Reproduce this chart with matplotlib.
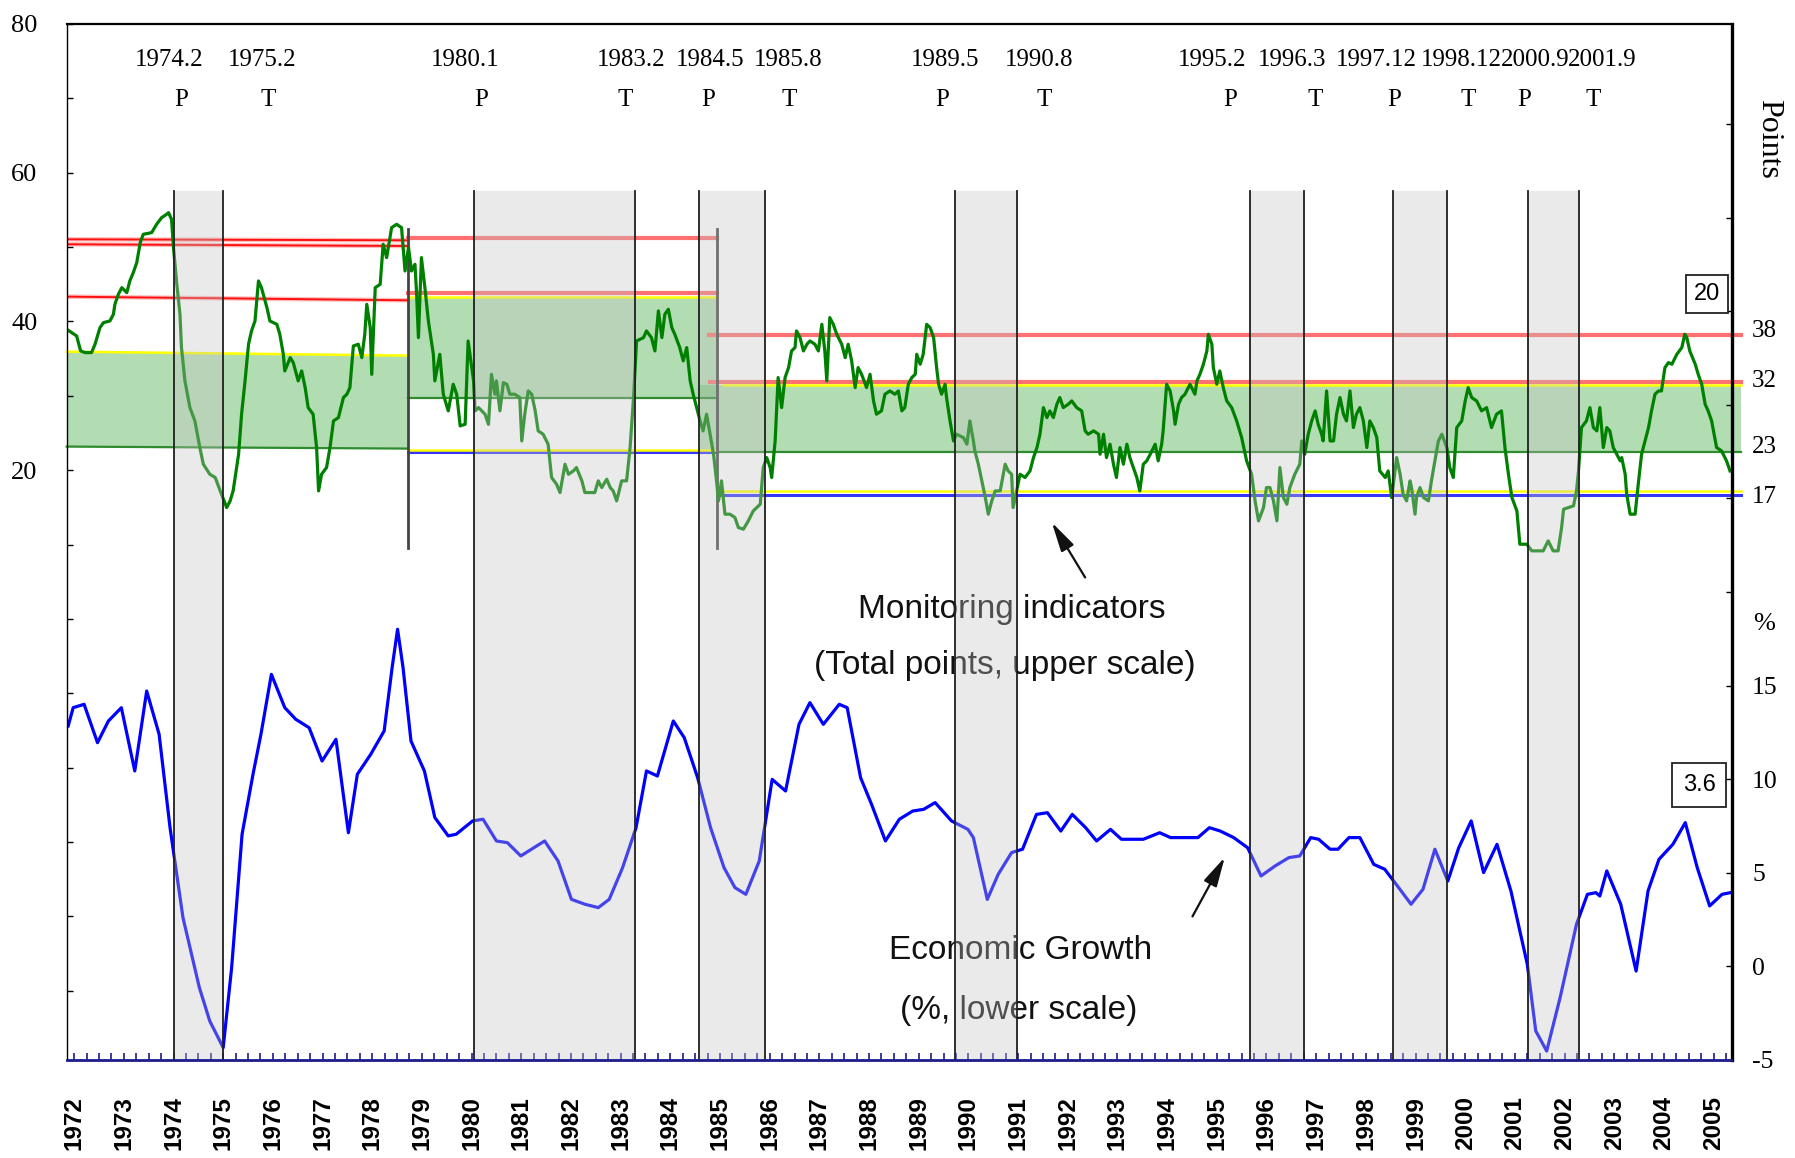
import matplotlib
matplotlib.use("Agg")
import matplotlib.pyplot as plt
from matplotlib.transforms import blended_transform_factory

# ---------------- data ----------------
# Monitoring indicators (total points, upper/left scale)
ci_year = [1971.85, 1971.95, 1972.05, 1972.13, 1972.22, 1972.35, 1972.42, 1972.52, 1972.59, 1972.72,
           1972.79, 1972.82, 1972.89, 1972.96, 1973.06, 1973.12, 1973.19, 1973.26, 1973.33, 1973.39,
           1973.56, 1973.66, 1973.76, 1973.86, 1973.90, 1973.96, 1974.00, 1974.06, 1974.13, 1974.16,
           1974.23, 1974.33, 1974.43, 1974.53, 1974.60, 1974.73, 1974.84, 1974.94, 1975.07, 1975.14,
           1975.20, 1975.31, 1975.37, 1975.44, 1975.51, 1975.57, 1975.64, 1975.71, 1975.77, 1975.88,
           1975.94, 1976.08, 1976.14, 1976.21, 1976.24, 1976.35, 1976.41, 1976.51, 1976.58, 1976.65,
           1976.71, 1976.81, 1976.88, 1976.92, 1976.98, 1977.08, 1977.15, 1977.22, 1977.32, 1977.42,
           1977.49, 1977.55, 1977.62, 1977.72, 1977.79, 1977.85, 1977.89, 1977.96, 1977.99, 1978.06,
           1978.16, 1978.22, 1978.29, 1978.39, 1978.49, 1978.59, 1978.66, 1978.73, 1978.79, 1978.86,
           1978.89, 1978.93, 1978.99, 1979.06, 1979.13, 1979.23, 1979.26, 1979.36, 1979.43, 1979.53,
           1979.63, 1979.70, 1979.77, 1979.87, 1979.93,
           1980.04, 1980.07, 1980.14, 1980.27, 1980.34, 1980.40, 1980.47, 1980.50, 1980.57, 1980.64,
           1980.71, 1980.77, 1980.87, 1980.97, 1981.01, 1981.07, 1981.14, 1981.21, 1981.28, 1981.34,
           1981.44, 1981.54, 1981.61, 1981.71, 1981.78, 1981.88, 1981.95, 1982.05, 1982.11, 1982.22,
           1982.28, 1982.48, 1982.55, 1982.62, 1982.72, 1982.79, 1982.85, 1982.92, 1983.02, 1983.12,
           1983.19, 1983.26, 1983.32, 1983.46, 1983.52, 1983.62, 1983.69, 1983.76, 1983.83, 1983.89,
           1983.96, 1984.03, 1984.09, 1984.19, 1984.26, 1984.33, 1984.40, 1984.46, 1984.53, 1984.60,
           1984.66, 1984.73, 1984.80, 1984.87, 1984.93, 1984.97, 1985.03, 1985.10, 1985.20, 1985.30,
           1985.37, 1985.47, 1985.57, 1985.67, 1985.81, 1985.87, 1985.94, 1986.01, 1986.04, 1986.11,
           1986.17, 1986.24, 1986.31, 1986.38, 1986.44, 1986.51, 1986.54, 1986.61, 1986.68, 1986.75,
           1986.81, 1986.91, 1986.98, 1987.05, 1987.11, 1987.15, 1987.21, 1987.28, 1987.35, 1987.45,
           1987.52, 1987.58, 1987.65, 1987.72, 1987.78, 1987.85, 1987.95, 1988.02, 1988.09, 1988.15,
           1988.25, 1988.32, 1988.42,
           1988.52, 1988.59, 1988.66, 1988.72, 1988.79, 1988.86, 1988.93, 1988.96, 1989.03, 1989.09,
           1989.16, 1989.23, 1989.30, 1989.36, 1989.40, 1989.46, 1989.53, 1989.56, 1989.63, 1989.70,
           1989.76, 1989.90, 1989.97, 1990.03, 1990.10, 1990.13, 1990.20, 1990.27, 1990.34, 1990.40,
           1990.47, 1990.54, 1990.64, 1990.74, 1990.80, 1990.87, 1990.90, 1990.97, 1991.04, 1991.14,
           1991.24, 1991.31, 1991.38, 1991.44, 1991.51, 1991.58, 1991.64, 1991.71, 1991.78, 1991.84,
           1991.91, 1992.01, 1992.08, 1992.18, 1992.28, 1992.35, 1992.41, 1992.52, 1992.62, 1992.65,
           1992.72, 1992.78, 1992.85, 1992.92, 1992.98, 1993.05, 1993.12, 1993.19, 1993.25, 1993.32,
           1993.39, 1993.45, 1993.52, 1993.59, 1993.66, 1993.76, 1993.82, 1993.89, 1993.92, 1993.99,
           1994.06, 1994.13, 1994.16, 1994.23, 1994.29, 1994.36, 1994.46, 1994.56, 1994.60, 1994.66,
           1994.73, 1994.80, 1994.83, 1994.90, 1994.93, 1995.00, 1995.06, 1995.13, 1995.20, 1995.30,
           1995.40, 1995.50, 1995.60, 1995.70, 1995.77, 1995.84, 1995.94, 1996.00, 1996.07, 1996.14,
           1996.21, 1996.27, 1996.34, 1996.41,
           1996.47, 1996.57, 1996.67, 1996.71, 1996.77, 1996.84, 1996.91, 1996.98, 1997.04, 1997.11,
           1997.14, 1997.21, 1997.28, 1997.35, 1997.41, 1997.48, 1997.55, 1997.61, 1997.68, 1997.75,
           1997.81, 1997.88, 1997.95, 1998.02, 1998.08, 1998.15, 1998.22, 1998.28, 1998.39, 1998.45,
           1998.52, 1998.62, 1998.69, 1998.75, 1998.82, 1998.89, 1998.92, 1998.99, 1999.02, 1999.09,
           1999.16, 1999.26, 1999.32, 1999.39, 1999.46, 1999.53, 1999.63, 1999.69, 1999.76, 1999.83,
           1999.93, 2000.00, 2000.06, 2000.13, 2000.23, 2000.33, 2000.43, 2000.53, 2000.63, 2000.73,
           2000.80, 2000.87, 2000.94, 2001.04, 2001.10, 2001.24, 2001.34, 2001.57, 2001.67, 2001.77,
           2001.87, 2001.94, 2001.98, 2002.18, 2002.24, 2002.28, 2002.34, 2002.44, 2002.51, 2002.58,
           2002.65, 2002.71, 2002.78, 2002.85, 2002.91, 2002.98, 2003.05, 2003.12, 2003.15, 2003.22,
           2003.25, 2003.32, 2003.42, 2003.49, 2003.55, 2003.62, 2003.69, 2003.75, 2003.82, 2003.89,
           2003.95, 2004.02, 2004.09, 2004.16, 2004.26, 2004.36, 2004.42, 2004.46, 2004.52, 2004.63,
           2004.69, 2004.76, 2004.83, 2004.89, 2004.96, 2005.06, 2005.16, 2005.26, 2005.33]
ci_points = [38.95, 38.50, 38.06, 36.04, 35.82, 35.82, 36.94, 39.18, 39.85, 40.07,
             40.97, 42.31, 43.66, 44.55, 43.88, 45.45, 46.57, 47.91, 50.60, 51.72,
             51.95, 53.07, 53.96, 54.41, 54.63, 53.74, 49.93, 45.45, 40.97, 36.49,
             32.01, 28.42, 26.63, 23.05, 20.81, 19.46, 19.02, 17.22, 14.98, 15.88,
             17.22, 22.15, 27.53, 32.01, 36.94, 38.73, 40.07, 45.45, 44.55, 41.87,
             40.07, 39.62, 38.28, 35.59, 33.35, 35.14, 34.47, 32.01, 33.35, 31.11,
             28.42, 27.53, 23.05, 17.22, 19.46, 20.36, 23.05, 26.63, 27.08, 29.77,
             30.22, 31.11, 36.71, 36.94, 35.14, 38.28, 42.31, 39.18, 32.90, 44.55,
             45.00, 50.38, 48.59, 52.62, 53.07, 52.62, 46.79, 49.93, 46.79, 47.69,
             44.11, 37.83, 48.59, 44.55, 40.07, 35.59, 32.01, 35.59, 30.22, 27.98,
             31.56, 30.22, 25.96, 26.18, 37.38,
             32.01, 27.98, 28.42, 27.53, 26.18, 32.90, 30.22, 32.01, 27.98, 31.78,
             31.56, 30.22, 30.22, 29.77, 23.94, 27.53, 30.66, 30.22, 27.98, 25.29,
             24.84, 23.50, 19.02, 18.12, 17.00, 20.81, 19.46, 19.91, 20.36, 18.57,
             17.00, 17.00, 18.57, 17.67, 18.79, 17.67, 17.22, 15.88, 18.57, 18.57,
             23.05, 29.77, 37.38, 37.83, 38.73, 37.83, 36.04, 41.42, 37.83, 40.97,
             41.64, 39.18, 38.28, 36.49, 34.70, 36.49, 32.01, 30.22, 28.42, 26.63,
             25.29, 27.53, 24.84, 22.15, 18.57, 15.88, 18.57, 14.09, 14.09, 13.64,
             12.29, 12.07, 13.19, 14.53, 15.43, 20.36, 21.70, 20.36, 19.02, 23.94,
             32.46, 28.42, 32.46, 33.80, 36.04, 36.49, 38.73, 37.83, 36.04, 36.94,
             37.38, 36.94, 36.04, 39.62, 36.04, 32.01, 40.52, 39.62, 38.28, 36.94,
             35.14, 36.94, 34.70, 31.11, 33.80, 32.90, 31.11, 32.90, 29.32, 27.53,
             27.98, 30.22, 30.66,
             30.22, 30.66, 27.98, 28.42, 31.56, 32.46, 32.90, 35.59, 34.25, 35.59,
             39.62, 39.18, 37.83, 33.80, 31.56, 30.22, 31.56, 29.77, 26.63, 23.94,
             24.84, 24.39, 23.50, 26.63, 23.94, 22.60, 20.81, 18.57, 16.33, 14.09,
             15.88, 17.22, 17.22, 20.81, 19.91, 19.46, 14.98, 17.22, 19.46, 19.02,
             19.91, 21.70, 23.05, 24.84, 28.42, 27.08, 27.98, 27.08, 28.87, 29.77,
             28.42, 28.87, 29.32, 28.42, 27.98, 25.29, 24.84, 25.29, 24.84, 22.15,
             24.84, 21.70, 23.50, 20.81, 19.02, 23.05, 20.81, 23.50, 21.70, 20.36,
             19.02, 17.22, 20.81, 21.26, 22.15, 23.50, 21.26, 23.50, 25.29, 31.56,
             30.66, 27.98, 26.18, 28.87, 29.77, 30.22, 31.56, 30.22, 32.01, 32.90,
             34.25, 36.04, 38.28, 36.94, 33.80, 31.56, 33.35, 31.11, 29.32, 28.42,
             26.63, 24.39, 21.26, 19.46, 15.88, 13.19, 14.98, 17.67, 17.67, 15.88,
             13.19, 20.36, 16.33, 15.43,
             17.67, 19.46, 20.81, 23.94, 22.15, 24.84, 26.63, 27.98, 26.18, 24.84,
             23.94, 30.66, 23.94, 23.94, 27.53, 29.77, 27.53, 26.63, 30.66, 25.74,
             27.53, 28.42, 26.63, 23.05, 26.63, 25.74, 24.39, 19.91, 19.02, 19.91,
             16.33, 21.70, 19.46, 16.78, 15.88, 18.57, 17.67, 14.09, 16.33, 17.67,
             16.33, 15.88, 18.57, 21.26, 23.94, 24.84, 23.05, 20.36, 19.02, 25.74,
             26.63, 29.32, 31.11, 29.77, 29.32, 27.98, 28.42, 25.74, 27.53, 27.98,
             23.05, 19.46, 16.33, 14.53, 10.05, 10.05, 9.16, 9.16, 10.50, 9.16,
             9.16, 12.29, 14.76, 15.21, 17.22, 19.91, 25.74, 26.63, 28.42, 25.74,
             25.29, 28.42, 23.05, 25.74, 25.29, 23.05, 22.15, 21.26, 21.70, 19.46,
             16.78, 14.09, 14.09, 18.57, 22.15, 23.94, 25.74, 27.98, 30.22, 30.66,
             30.66, 33.80, 34.47, 34.25, 35.59, 36.49, 38.28, 37.83, 36.04, 34.25,
             32.90, 31.56, 28.87, 27.98, 26.63, 23.05, 22.60, 21.26, 19.91]

# Economic growth (%, lower/right scale)
gdp_year = [1971.88, 1971.98, 1972.20, 1972.47, 1972.69, 1972.95, 1973.22, 1973.46, 1973.71, 1973.93,
            1974.19, 1974.52, 1974.73, 1975.00, 1975.17, 1975.38, 1975.60, 1975.76, 1975.97, 1976.24,
            1976.46, 1976.73, 1976.99, 1977.27, 1977.52, 1977.70, 1977.97, 1978.24, 1978.40, 1978.51,
            1978.62, 1978.78, 1979.05, 1979.26, 1979.53, 1979.69, 1980.02, 1980.23, 1980.50, 1980.72,
            1980.99, 1981.47, 1981.74, 1982.01, 1982.28, 1982.55, 1982.77, 1983.04, 1983.31, 1983.52,
            1983.74, 1984.06, 1984.28, 1984.55, 1984.81, 1985.08, 1985.30, 1985.52, 1985.79, 1986.05,
            1986.32, 1986.59, 1986.81, 1987.08, 1987.40, 1987.56, 1987.83, 1988.05, 1988.33, 1988.61,
            1988.88, 1989.10, 1989.33, 1989.66, 1989.99, 1990.10, 1990.38, 1990.60, 1990.87, 1991.09,
            1991.37, 1991.59, 1991.86, 1992.09, 1992.36, 1992.58, 1992.86, 1993.08, 1993.52, 1993.85,
            1994.07, 1994.62, 1994.85, 1995.07, 1995.34, 1995.62, 1995.89, 1996.17, 1996.45, 1996.67,
            1996.89, 1997.05, 1997.28, 1997.44, 1997.66, 1997.88, 1998.16, 1998.38, 1998.66, 1998.91,
            1999.15, 1999.39, 1999.65, 1999.87, 2000.12, 2000.37, 2000.64, 2000.92, 2001.25, 2001.42,
            2001.64, 2001.91, 2002.24, 2002.46, 2002.63, 2002.71, 2002.85, 2003.13, 2003.44, 2003.68,
            2003.90, 2004.18, 2004.43, 2004.67, 2004.92, 2005.17, 2005.34]
gdp_growth = [12.84, 13.82, 14.00, 11.95, 13.11, 13.82, 10.44, 14.71, 12.40, 7.41,
              2.61, -1.13, -2.92, -4.34, -0.07, 7.06, 10.26, 12.40, 15.60, 13.82,
              13.20, 12.75, 10.97, 12.13, 7.14, 10.26, 11.33, 12.58, 15.96, 18.01,
              15.96, 12.04, 10.44, 7.95, 6.97, 7.06, 7.77, 7.86, 6.70, 6.61,
              5.90, 6.70, 5.63, 3.58, 3.32, 3.14, 3.58, 5.28, 7.41, 10.44,
              10.17, 13.11, 12.22, 10.08, 7.41, 5.28, 4.21, 3.85, 5.63, 9.99,
              9.37, 12.93, 14.09, 12.93, 14.00, 13.82, 10.08, 8.66, 6.70, 7.86,
              8.30, 8.39, 8.75, 7.77, 7.32, 6.88, 3.58, 4.92, 6.08, 6.26,
              8.12, 8.21, 7.23, 8.12, 7.41, 6.70, 7.32, 6.79, 6.79, 7.14,
              6.88, 6.88, 7.41, 7.23, 6.88, 6.34, 4.83, 5.36, 5.81, 5.90,
              6.88, 6.79, 6.26, 6.26, 6.88, 6.88, 5.45, 5.19, 4.21, 3.32,
              4.12, 6.26, 4.56, 6.34, 7.77, 5.01, 6.52, 4.03, 0.11, -3.45,
              -4.52, -1.67, 2.25, 3.85, 3.94, 3.76, 5.10, 3.32, -0.25, 4.03,
              5.72, 6.52, 7.68, 5.28, 3.23, 3.85, 3.94]

# Business cycle reference dates (peak -> trough shading)
band_start = [1974.01, 1980.05, 1984.57, 1989.73, 1995.66, 1998.55, 2001.26]
band_end = [1975.00, 1983.28, 1985.90, 1990.97, 1996.75, 1999.63, 2002.30]
turn_dates = ["1974.2", "1975.2", "1980.1", "1983.2", "1984.5", "1985.8", "1989.5",
              "1990.8", "1995.2", "1996.3", "1997.12", "1998.12", "2000.9", "2001.9"]
turn_kinds = ["P", "T", "P", "T", "P", "T", "P", "T", "P", "T", "P", "T", "P", "T"]

# Signal thresholds by period: (start, end, value at start, value at end)
red_thin = [(1971.85, 1978.72, 51.05, 50.92), (1971.85, 1978.72, 50.38, 50.15),
            (1971.85, 1978.72, 43.34, 42.85)]
red_thick = [(1978.72, 1984.93, 51.18, 51.18), (1978.72, 1984.93, 43.88, 43.88),
             (1984.77, 2005.55, 38.19, 38.19), (1984.80, 2005.55, 31.92, 31.92)]
yellow_lines = [(1971.85, 1978.72, 35.95, 35.41), (1978.72, 1984.93, 43.34, 43.34),
                (1978.72, 1984.93, 22.78, 22.78), (1985.07, 2005.55, 31.47, 31.47),
                (1984.97, 2005.55, 17.22, 17.22)]
blue_lines = [(1978.72, 1984.93, 22.46, 22.46), (1984.97, 2005.55, 16.69, 16.69)]
green_zone = [(1971.85, 1978.72, 35.95, 35.41, 23.18, 22.91),
              (1978.72, 1984.93, 43.34, 43.34, 29.77, 29.77),
              (1984.60, 2005.55, 31.47, 31.47, 22.51, 22.51)]
period_breaks = [1978.72, 1984.93]

years = list(range(1972, 2006))
left_ticks = [80, 70, 60, 50, 40, 30, 20, 10, 0, -10, -20, -30, -40, -50]
left_labels = ["80", "", "60", "", "40", "", "20", "", "", "", "", "", "", ""]
right_ticks = [-5, 0, 5, 10, 15, 20, 25, 30, 35, 40, 45]
right_labels = ["-5", "0", "5", "10", "15", "", "", "", "", "", ""]
threshold_text = ["38", "32", "23", "17"]
threshold_text_pos = [38.7, 32.0, 23.1, 16.4]

# ---------------- figure ----------------
SERIF = ["Liberation Serif", "DejaVu Serif"]
SANS = ["Liberation Sans", "DejaVu Sans"]

fig = plt.figure(figsize=(17.95, 11.58), dpi=100)
fig.patch.set_facecolor("white")
ax = fig.add_axes([66.7 / 1795, 1 - 1060 / 1158, (1731.5 - 66.7) / 1795, (1060 - 24) / 1158])
ax.set_xlim(1971.85, 2005.36)
ax.set_ylim(-59.3, 80)
ax2 = ax.twinx()
ax2.set_ylim(-5, 50.34)

# green zone fills
for x0, x1, t0, t1, b0, b1 in green_zone:
    ax.fill_between([x0, x1], [b0, b1], [t0, t1], color="#66bb66", alpha=0.5,
                    linewidth=0, zorder=1, clip_on=False)
    ax.plot([x0, x1], [b0, b1], color="#2e8b2e", lw=1.6, zorder=2, clip_on=False)

for x0, x1, y0, y1 in red_thin:
    ax.plot([x0, x1], [y0, y1], color="#ff9090", lw=3.2, zorder=2, alpha=0.6)
    ax.plot([x0, x1], [y0, y1], color="#ff1010", lw=1.4, zorder=2)
for x0, x1, y0, y1 in red_thick:
    ax.plot([x0, x1], [y0, y1], color="#ff7070", lw=3.0, zorder=2, clip_on=False)
for x0, x1, y0, y1 in blue_lines:
    ax.plot([x0, x1], [y0, y1], color="#3535ff", lw=2.2, zorder=2, clip_on=False)
for x0, x1, y0, y1 in yellow_lines:
    ax.plot([x0, x1], [y0, y1], color="#ffff00", lw=1.8, zorder=2.1, clip_on=False)

for xb in period_breaks:
    ax.plot([xb, xb], [52.4, 9.6], color="#444444", lw=2.0, zorder=3)

# monitoring indicator line
ax.plot(ci_year, ci_points, color="#008000", lw=2.3, zorder=4)

# economic growth line
ax2.plot(gdp_year, gdp_growth, color="#0000ff", lw=2.3, zorder=2)

# recession shading overlays + edge lines
ylo, yhi = ax.get_ylim()
band_top = (57.6 - ylo) / (yhi - ylo)
trans2 = ax2.get_xaxis_transform()
for s, e in zip(band_start, band_end):
    ax2.axvspan(s, e, ymin=0, ymax=band_top, facecolor="#c4c4c4", alpha=0.35,
                edgecolor="none", zorder=5)
    for xe in (s, e):
        ax2.plot([xe, xe], [0, band_top], transform=trans2, color="#202020", lw=1.3, zorder=6)

# turning point labels
label_x = [1973.92, 1975.79, 1979.87, 1983.21, 1984.80, 1986.38, 1989.53,
           1991.43, 1994.90, 1996.51, 1998.21, 1999.93, 2001.40, 2002.76]
kind_x = [1974.15, 1975.90, 1980.19, 1983.09, 1984.76, 1986.40, 1989.48,
          1991.52, 1995.27, 1996.98, 1998.56, 2000.05, 2001.19, 2002.57]
for lx, kx, d, k in zip(label_x, kind_x, turn_dates, turn_kinds):
    ax.text(lx, 75.2, d, ha="center", va="center", fontsize=18, family=SERIF)
    ax.text(kx, 69.8, k, ha="center", va="center", fontsize=18, family=SERIF)

# annotations
ax.text(1990.87, 0.1, "Monitoring indicators", ha="center", va="baseline",
        fontsize=24, family=SANS, color="#111111", zorder=4.5)
ax.text(1990.73, -7.37, "(Total points, upper scale)", ha="center", va="baseline",
        fontsize=24, family=SANS, color="#111111", zorder=4.5)
ax.text(1991.04, -45.7, "Economic Growth", ha="center", va="baseline",
        fontsize=24, family=SANS, color="#111111", zorder=4.5)
ax.text(1991.02, -53.77, "(%, lower scale)", ha="center", va="baseline",
        fontsize=24, family=SANS, color="#111111", zorder=4.5)
arrow_kw = dict(arrowstyle="-|>,head_length=0.9,head_width=0.22", color="#111111",
                lw=1.6, mutation_scale=20, shrinkA=0, shrinkB=0)
ax.annotate("", xy=(1991.68, 12.97), xytext=(1992.35, 5.58), arrowprops=arrow_kw, zorder=4.5)
ax.annotate("", xy=(1995.16, -32.05), xytext=(1994.51, -40.0), arrowprops=arrow_kw, zorder=4.5)

box_kw = dict(boxstyle="square,pad=0.32", fc="white", ec="#222222", lw=1.3)
ax2.text(2004.87, -5 + (1060 - 294) / 18.72, "20", ha="center", va="center", fontsize=17,
         family=SANS, bbox=box_kw, zorder=8)
box_kw2 = dict(boxstyle="square,pad=0.45", fc="white", ec="#222222", lw=1.3)
ax2.text(2004.71, -5 + (1060 - 785) / 18.72, "3.6", ha="center", va="center", fontsize=17,
         family=SANS, bbox=box_kw2, zorder=8)

# right-side threshold numbers
tr = blended_transform_factory(ax.transAxes, ax.transData)
for txt, yv in zip(threshold_text, threshold_text_pos):
    ax.annotate(txt, xy=(1.0, yv), xycoords=tr, xytext=(14.8, 0), textcoords="offset points",
                ha="left", va="center", fontsize=18, family=SERIF, annotation_clip=False)
ax.annotate("Points", xy=(1.0, 64.6), xycoords=tr, xytext=(27, 0), textcoords="offset points",
            ha="center", va="center", rotation=-90, fontsize=23, family=SERIF,
            annotation_clip=False)
tr2 = blended_transform_factory(ax2.transAxes, ax2.transData)
ax2.annotate("%", xy=(1.0, 18.3), xycoords=tr2, xytext=(23.4, 0), textcoords="offset points",
             ha="center", va="center", fontsize=19, family=SERIF, annotation_clip=False)

# axes styling
ax.set_xticks(years)
ax.set_xticklabels([str(y) for y in years], rotation=90, fontsize=17.5, fontweight="bold",
                   family=SANS)
ax.set_xticks([y + q / 4 for y in range(1972, 2006) for q in range(1, 4)
               if y + q / 4 < 2005.36], minor=True)
ax.tick_params(axis="x", which="both", direction="in", length=5, width=1.2,
               color="#1c1c8c", pad=26)
ax.set_yticks(left_ticks)
ax.set_yticklabels(left_labels, fontsize=19, family=SERIF)
ax.tick_params(axis="y", direction="in", length=4, width=1.0, pad=21)
ax2.set_yticks(right_ticks)
ax2.set_yticklabels(right_labels, fontsize=18.5, family=SERIF)
ax2.tick_params(axis="y", direction="in", length=4, width=1.0, pad=14.8)

for sp in ax.spines.values():
    sp.set_visible(False)
ax2.spines["top"].set_linewidth(1.6)
ax2.spines["right"].set_linewidth(2.4)
ax2.spines["left"].set_linewidth(1.0)
ax2.spines["bottom"].set_linewidth(2.0)
ax2.spines["bottom"].set_color("#1c1c8c")
for sp in ax2.spines.values():
    sp.set_zorder(9)

fig.savefig("out.png", dpi=100, facecolor="white")
